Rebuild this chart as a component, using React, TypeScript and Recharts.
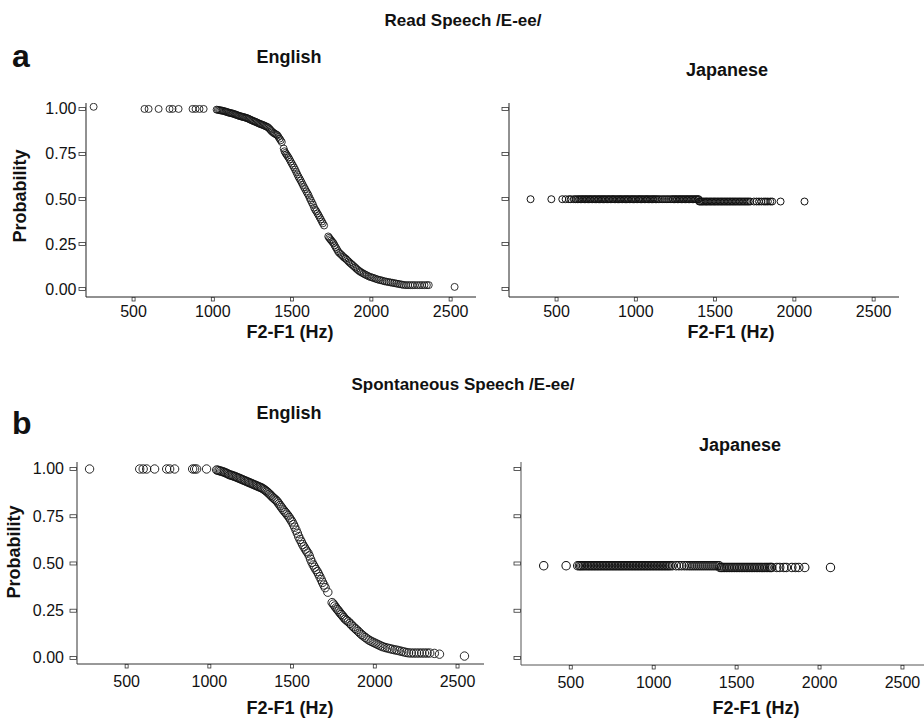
import React from 'react';
import { ScatterChart, Scatter, XAxis, YAxis } from 'recharts';

const FONT = '"Liberation Sans", Arial, sans-serif';

const xTicks = [500, 1000, 1500, 2000, 2500];
const yTicks = [0, 0.25, 0.5, 0.75, 1];
const yTickLabels = ['0.00', '0.25', '0.50', '0.75', '1.00'];

// Read speech, English listeners: [F2-F1 (Hz), probability]
const readEnglish: [number, number][] = [
  [248, 1.012], [569, 1.0], [595, 1.0], [658, 1.0], [727, 1.0], [746, 1.0], [784, 1.0], [872, 1.0], [891, 1.0], [916, 1.0], [942, 1.0],
  [1024, 0.996], [1032, 0.995], [1040, 0.994], [1047, 0.992], [1055, 0.991], [1062, 0.99], [1070, 0.988], [1078, 0.986], [1085, 0.984],
  [1092, 0.982], [1100, 0.98], [1107, 0.978], [1114, 0.977], [1121, 0.975], [1128, 0.974], [1136, 0.971], [1143, 0.969], [1150, 0.967],
  [1158, 0.964], [1165, 0.962], [1172, 0.96], [1180, 0.958], [1187, 0.956], [1194, 0.955], [1202, 0.953], [1209, 0.951], [1216, 0.949],
  [1224, 0.946], [1231, 0.943], [1238, 0.94], [1246, 0.937], [1253, 0.934], [1260, 0.931], [1268, 0.929], [1275, 0.926], [1282, 0.923],
  [1290, 0.92], [1297, 0.917], [1304, 0.915], [1312, 0.912], [1319, 0.91], [1326, 0.907], [1334, 0.904], [1341, 0.901], [1348, 0.898],
  [1356, 0.891], [1363, 0.884], [1370, 0.877], [1378, 0.871], [1385, 0.866], [1392, 0.862], [1400, 0.858], [1407, 0.854], [1414, 0.845],
  [1421, 0.835], [1428, 0.826], [1435, 0.816], [1447, 0.78], [1452, 0.765], [1458, 0.756], [1464, 0.748], [1470, 0.74], [1477, 0.731],
  [1484, 0.72], [1491, 0.708], [1498, 0.697], [1505, 0.686], [1512, 0.675], [1519, 0.663], [1526, 0.65], [1533, 0.637], [1540, 0.624],
  [1547, 0.613], [1554, 0.602], [1561, 0.59], [1568, 0.578], [1575, 0.566], [1582, 0.555], [1590, 0.542], [1597, 0.531], [1604, 0.52],
  [1611, 0.505], [1618, 0.493], [1625, 0.48], [1632, 0.468], [1639, 0.452], [1646, 0.44], [1653, 0.432], [1660, 0.42], [1667, 0.41],
  [1674, 0.398], [1681, 0.387], [1688, 0.375], [1694, 0.365], [1702, 0.353], [1728, 0.292], [1734, 0.285], [1740, 0.277], [1747, 0.27],
  [1754, 0.262], [1761, 0.255], [1768, 0.243], [1775, 0.232], [1782, 0.222], [1789, 0.211], [1796, 0.202], [1805, 0.195], [1814, 0.188],
  [1822, 0.18], [1830, 0.174], [1838, 0.169], [1846, 0.162], [1855, 0.154], [1863, 0.147], [1872, 0.14], [1880, 0.134], [1889, 0.127],
  [1898, 0.12], [1906, 0.113], [1915, 0.106], [1924, 0.1], [1932, 0.095], [1942, 0.09], [1952, 0.085], [1962, 0.08], [1972, 0.076],
  [1983, 0.071], [1994, 0.067], [2005, 0.064], [2016, 0.061], [2027, 0.057], [2038, 0.054], [2049, 0.051], [2060, 0.049], [2072, 0.046],
  [2084, 0.043], [2096, 0.041], [2108, 0.039], [2120, 0.037], [2132, 0.035], [2144, 0.033], [2156, 0.031], [2168, 0.029], [2180, 0.027],
  [2192, 0.025], [2204, 0.023], [2218, 0.022], [2232, 0.022], [2246, 0.022], [2260, 0.022], [2274, 0.022], [2290, 0.022], [2305, 0.022],
  [2320, 0.022], [2335, 0.022], [2350, 0.022], [2362, 0.022], [2525, 0.012],
];

// Spontaneous speech, English listeners
const spontEnglish: [number, number][] = [
  [276, 1.0], [579, 1.0], [600, 1.0], [621, 1.0], [669, 1.0], [742, 1.0], [760, 1.0], [790, 1.0], [899, 1.0], [911, 1.0], [923, 1.0], [983, 1.0],
  [1044, 0.995], [1052, 0.993], [1060, 0.991], [1068, 0.989], [1076, 0.987], [1084, 0.985], [1092, 0.982], [1100, 0.979], [1108, 0.976],
  [1116, 0.972], [1124, 0.969], [1132, 0.967], [1140, 0.965], [1148, 0.962], [1156, 0.96], [1164, 0.957], [1172, 0.954], [1180, 0.951],
  [1188, 0.948], [1196, 0.945], [1204, 0.942], [1212, 0.939], [1220, 0.936], [1228, 0.933], [1236, 0.93], [1244, 0.927], [1252, 0.924],
  [1260, 0.921], [1268, 0.918], [1276, 0.915], [1284, 0.912], [1292, 0.909], [1300, 0.906], [1308, 0.903], [1316, 0.9], [1324, 0.896],
  [1332, 0.891], [1340, 0.886], [1348, 0.88], [1356, 0.874], [1364, 0.867], [1372, 0.86], [1380, 0.853], [1388, 0.846], [1396, 0.84],
  [1404, 0.834], [1412, 0.826], [1420, 0.816], [1428, 0.806], [1436, 0.797], [1444, 0.787], [1452, 0.778], [1460, 0.77], [1468, 0.761],
  [1476, 0.752], [1484, 0.742], [1492, 0.731], [1500, 0.72], [1508, 0.706], [1516, 0.692], [1524, 0.676], [1532, 0.66], [1540, 0.642],
  [1548, 0.627], [1556, 0.614], [1564, 0.6], [1572, 0.588], [1580, 0.576], [1588, 0.565], [1596, 0.555], [1604, 0.54], [1612, 0.522],
  [1620, 0.506], [1628, 0.492], [1636, 0.48], [1644, 0.468], [1652, 0.457], [1660, 0.444], [1668, 0.43], [1676, 0.415], [1684, 0.4],
  [1692, 0.386], [1700, 0.372], [1716, 0.348], [1742, 0.293], [1750, 0.285], [1758, 0.275], [1766, 0.265], [1774, 0.256], [1782, 0.248],
  [1790, 0.238], [1798, 0.23], [1806, 0.222], [1814, 0.213], [1822, 0.205], [1830, 0.199], [1840, 0.192], [1850, 0.183], [1860, 0.174],
  [1870, 0.165], [1880, 0.157], [1890, 0.149], [1900, 0.141], [1910, 0.132], [1920, 0.124], [1930, 0.117], [1942, 0.109], [1954, 0.101],
  [1966, 0.094], [1978, 0.088], [1990, 0.083], [2002, 0.078], [2014, 0.073], [2026, 0.068], [2038, 0.063], [2050, 0.059], [2064, 0.055],
  [2078, 0.052], [2092, 0.049], [2106, 0.046], [2120, 0.043], [2134, 0.041], [2148, 0.038], [2162, 0.035], [2176, 0.032], [2190, 0.029],
  [2204, 0.027], [2220, 0.026], [2236, 0.026], [2252, 0.026], [2268, 0.026], [2284, 0.026], [2300, 0.026], [2316, 0.026], [2332, 0.026],
  [2360, 0.024], [2391, 0.02], [2542, 0.01],
];

// Read speech, Japanese listeners (two probability levels)
const readJapaneseHighY = 0.499;
const readJapaneseHighX = [
  336, 467, 536, 557, 578, 590, 609, 620, 631, 641, 650, 659, 667, 677, 684, 693, 702, 710, 718, 727, 737, 744, 753, 763, 770, 779,
  788, 796, 804, 813, 823, 830, 839, 849, 856, 864, 873, 883, 891, 899, 907, 916, 926, 934, 942, 950, 959, 969, 977, 985, 993, 1002,
  1012, 1020, 1028, 1036, 1045, 1055, 1063, 1071, 1079, 1088, 1098, 1106, 1114, 1123, 1131, 1141, 1152, 1166, 1178, 1191, 1203, 1216,
  1228, 1236, 1245, 1253, 1262, 1271, 1279, 1288, 1296, 1305, 1314, 1322, 1331, 1339, 1348, 1357, 1365, 1374, 1382, 1391, 1396,
];
const readJapaneseLowY = 0.486;
const readJapaneseLowX = [
  1400, 1408, 1416, 1423, 1431, 1440, 1447, 1455, 1464, 1472, 1480, 1489, 1497, 1505, 1514, 1522, 1531, 1539, 1547, 1556, 1564, 1573,
  1581, 1590, 1598, 1607, 1615, 1624, 1632, 1641, 1650, 1658, 1667, 1676, 1685, 1694, 1703, 1712, 1722, 1745, 1762, 1777, 1792, 1808,
  1820, 1833, 1848, 1860, 1913, 2064,
];

// Spontaneous speech, Japanese listeners
const spontJapaneseHighY = 0.488;
const spontJapaneseHighX = [
  337, 472, 542, 552, 560, 568, 577, 586, 596, 605, 614, 623, 632, 641, 650, 659, 668, 677, 686, 695, 704, 713, 722, 731, 740, 749,
  758, 767, 776, 785, 794, 803, 812, 821, 830, 839, 848, 857, 866, 875, 884, 893, 902, 911, 920, 929, 938, 947, 956, 965, 974, 983,
  992, 1001, 1010, 1019, 1028, 1037, 1046, 1055, 1064, 1073, 1082, 1091, 1100, 1112, 1135, 1152, 1168, 1185, 1200, 1214, 1226, 1238,
  1250, 1262, 1274, 1286, 1298, 1310, 1322, 1334, 1346, 1358, 1370, 1382, 1394,
];
const spontJapaneseLowY = 0.479;
const spontJapaneseLowX = [
  1400, 1409, 1418, 1428, 1438, 1448, 1458, 1468, 1478, 1488, 1498, 1508, 1518, 1528, 1538, 1548, 1558, 1568, 1578, 1588, 1598, 1608,
  1618, 1628, 1638, 1648, 1658, 1668, 1678, 1688, 1698, 1706, 1712, 1742, 1760, 1785, 1800, 1833, 1855, 1875, 1911, 2066,
];

const toPoints = (pairs: [number, number][]) => pairs.map(([x, y]) => ({ x, y }));
const levelPoints = (xs: number[], y: number) => xs.map((x) => ({ x, y }));

type PanelProps = {
  plotLeft: number;
  plotTop: number;
  plotWidth: number;
  plotHeight: number;
  yDomain: [number, number];
  data: { x: number; y: number }[];
  radius: number;
  strokeWidth: number;
  showYLabels: boolean;
  yLabelGap: number;
  xLabelOffset: number;
  axisColor: string;
};

const Y_AXIS_W = 70;
const X_AXIS_H = 40;
const M_TOP = 8;
const M_RIGHT = 8;

function Panel(p: PanelProps) {
  const XTick = (props: any) => {
    const { x, y, payload } = props;
    return (
      <g>
        <rect x={x - 1.5} y={y + 0.5} width={3} height={3.5} fill="#fff" stroke="#333" strokeWidth={0.8} />
        <text x={x} y={y + p.xLabelOffset} textAnchor="middle" fontSize={16} fontFamily={FONT} fill="#111">
          {payload.value}
        </text>
      </g>
    );
  };
  const YTick = (props: any) => {
    const { x, y, payload } = props;
    const idx = yTicks.indexOf(payload.value);
    return (
      <g>
        <rect x={x - 7} y={y - 1.5} width={6.5} height={3} fill="#fff" stroke="#333" strokeWidth={0.8} />
        {p.showYLabels ? (
          <text x={x - p.yLabelGap} y={y + 5.5} textAnchor="end" fontSize={16} fontFamily={FONT} fill="#111">
            {yTickLabels[idx]}
          </text>
        ) : null}
      </g>
    );
  };
  const shape = (s: any) => (
    <circle cx={s.cx} cy={s.cy} r={p.radius} fill="none" stroke="#111" strokeWidth={p.strokeWidth} />
  );
  return (
    <div style={{ position: 'absolute', left: p.plotLeft - Y_AXIS_W, top: p.plotTop - M_TOP }}>
      <ScatterChart
        width={Y_AXIS_W + p.plotWidth + M_RIGHT}
        height={M_TOP + p.plotHeight + X_AXIS_H}
        margin={{ top: M_TOP, right: M_RIGHT, left: 0, bottom: 0 }}
      >
        <XAxis
          type="number"
          dataKey="x"
          domain={[200, 2660]}
          ticks={xTicks}
          interval={0}
          allowDataOverflow
          height={X_AXIS_H}
          tickSize={0}
          tickMargin={0}
          tickLine={false}
          axisLine={{ stroke: p.axisColor, strokeWidth: 1 }}
          tick={XTick}
        />
        <YAxis
          type="number"
          dataKey="y"
          domain={p.yDomain}
          ticks={yTicks}
          interval={0}
          allowDataOverflow
          width={Y_AXIS_W}
          tickSize={0}
          tickMargin={0}
          tickLine={false}
          axisLine={{ stroke: p.axisColor, strokeWidth: 1 }}
          tick={YTick}
        />
        <Scatter data={p.data} shape={shape} isAnimationActive={false} />
      </ScatterChart>
    </div>
  );
}

export default function App() {
  const bold = { fontFamily: FONT, fontWeight: 700, fill: '#111' } as const;
  return (
    <div style={{ position: 'absolute', left: 0, top: 0, width: 924, height: 718, overflow: 'hidden', background: '#fff' }}>
      <Panel
        plotLeft={85.5} plotTop={103} plotWidth={390} plotHeight={194}
        yDomain={[-0.044, 1.033]} data={toPoints(readEnglish)} radius={3.5} strokeWidth={0.85}
        showYLabels yLabelGap={9.5} xLabelOffset={20} axisColor="#222"
      />
      <Panel
        plotLeft={508.5} plotTop={103} plotWidth={390} plotHeight={194}
        yDomain={[-0.044, 1.033]}
        data={[...levelPoints(readJapaneseHighX, readJapaneseHighY), ...levelPoints(readJapaneseLowX, readJapaneseLowY)]}
        radius={3.5} strokeWidth={1} showYLabels={false} yLabelGap={9.5} xLabelOffset={20} axisColor="#222"
      />
      <Panel
        plotLeft={77.3} plotTop={462} plotWidth={407} plotHeight={202}
        yDomain={[-0.032, 1.037]} data={toPoints(spontEnglish)} radius={4.2} strokeWidth={0.9}
        showYLabels yLabelGap={13} xLabelOffset={23} axisColor="#333"
      />
      <Panel
        plotLeft={521.2} plotTop={462} plotWidth={408} plotHeight={203}
        yDomain={[-0.037, 1.037]}
        data={[...levelPoints(spontJapaneseHighX, spontJapaneseHighY), ...levelPoints(spontJapaneseLowX, spontJapaneseLowY)]}
        radius={4.2} strokeWidth={1.05} showYLabels={false} yLabelGap={13} xLabelOffset={23} axisColor="#555"
      />
      <svg width={924} height={718} style={{ position: 'absolute', left: 0, top: 0, pointerEvents: 'none' }}>
        <text x={463} y={26} textAnchor="middle" fontSize={17} {...bold}>Read Speech /E-ee/</text>
        <text x={12} y={67} fontSize={32} {...bold}>a</text>
        <text x={289} y={63} textAnchor="middle" fontSize={18} {...bold}>English</text>
        <text x={727} y={76} textAnchor="middle" fontSize={18} {...bold}>Japanese</text>
        <text x={26} y={196} textAnchor="middle" fontSize={18} transform="rotate(-90 26 196)" {...bold}>Probability</text>
        <text x={290} y={338} textAnchor="middle" fontSize={18} {...bold}>F2-F1 (Hz)</text>
        <text x={731} y={338} textAnchor="middle" fontSize={18} {...bold}>F2-F1 (Hz)</text>

        <text x={463} y={390} textAnchor="middle" fontSize={17} {...bold}>Spontaneous Speech /E-ee/</text>
        <text x={12} y={434} fontSize={32} {...bold}>b</text>
        <text x={289} y={419} textAnchor="middle" fontSize={18} {...bold}>English</text>
        <text x={740} y={451} textAnchor="middle" fontSize={18} {...bold}>Japanese</text>
        <text x={20} y={552} textAnchor="middle" fontSize={18} transform="rotate(-90 20 552)" {...bold}>Probability</text>
        <text x={290} y={714} textAnchor="middle" fontSize={18} {...bold}>F2-F1 (Hz)</text>
        <text x={756} y={714} textAnchor="middle" fontSize={18} {...bold}>F2-F1 (Hz)</text>
      </svg>
    </div>
  );
}
